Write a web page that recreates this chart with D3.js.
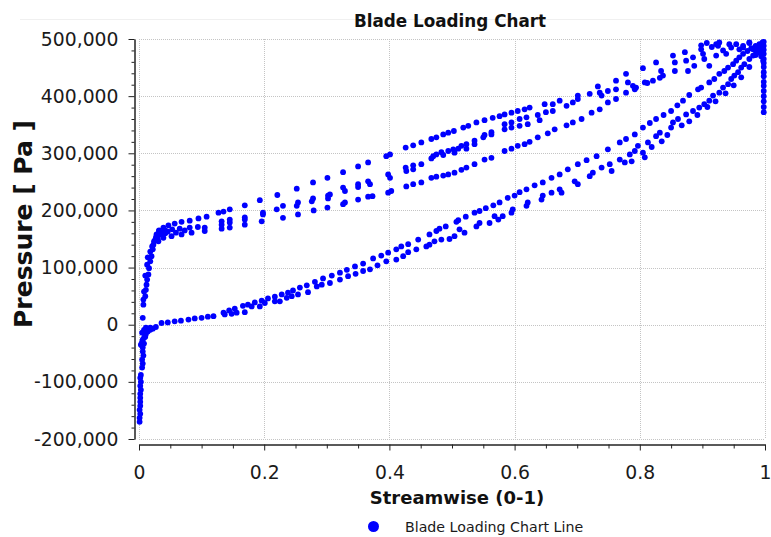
<!DOCTYPE html>
<html><head><meta charset="utf-8">
<script src="https://cdn.jsdelivr.net/npm/d3@7/dist/d3.min.js"></script>
<style>body{margin:0;background:#fff}svg{display:block}</style>
</head><body><svg id="c" width="771" height="537"></svg>
<script>
const title = "Blade Loading Chart";
const xLabel = "Streamwise (0-1)";
const yLabel = "Pressure [ Pa ]";
const legendLabel = "Blade Loading Chart Line";
const xTicks = [0, 0.2, 0.4, 0.6, 0.8, 1];
const xMinorTicks = [0.05,0.1,0.15,0.25,0.3,0.35,0.45,0.5,0.55,0.65,0.7,0.75,0.85,0.9,0.95];
const yTicks = [-200000, -100000, 0, 100000, 200000, 300000, 400000, 500000];
const yMinorTicks = [-180000,-160000,-140000,-120000,-80000,-60000,-40000,-20000,20000,40000,60000,80000,120000,140000,160000,180000,220000,240000,260000,280000,320000,340000,360000,380000,420000,440000,460000,480000];

// leading edge, suction side (near x = 0, negative pressures)
const leSuction = [[0.001,-170000],[0.001,-163000],[0.002,-156000],[0.001,-149000],[0.002,-142000],[0.002,-135000],[0.002,-128000],[0.002,-121000],[0.003,-114000],[0.002,-107000],[0.003,-100000],[0.002,-93000],[0.003,-88000],[0.005,-75000],[0.006,-68000],[0.005,-61000],[0.007,-54000],[0.006,-47000],[0.006,-40000],[0.008,-33000],[0.006,-26000],[0.010,-21000],[0.005,-14000],[0.008,-9000],[0.011,-5000],[0.006,12000],[0.003,-35000],[0.005,-30000],[0.008,-23000],[0.011,-16000],[0.014,-12000],[0.018,-9000],[0.022,-7000],[0.011,-11000],[0.010,-19000]];
// leading edge, pressure side rise
const lePressure = [[0.007,35000],[0.007,44000],[0.010,50000],[0.011,61000],[0.012,70000],[0.013,79000],[0.015,88000],[0.016,99000],[0.018,111000],[0.020,120000],[0.022,132000],[0.023,140000],[0.026,149000],[0.028,158000],[0.032,164000],[0.021,137000],[0.024,146000],[0.027,153000],[0.029,156000],[0.030,151000],[0.034,158000],[0.037,161000],[0.042,160000],[0.046,163000],[0.059,161000],[0.073,165000],[0.018,128000],[0.014,118000],[0.013,105000],[0.010,86000],[0.008,58000]];
// pressure side, upper row
const psTop = [[0.032,165000],[0.039,170000],[0.047,174000],[0.057,177000],[0.068,180000],[0.081,182000],[0.095,186000],[0.108,189000],[0.127,196000],[0.135,198000],[0.145,202000],[0.169,209000],[0.193,218000],[0.221,227000],[0.252,238000],[0.278,249000],[0.301,257000],[0.326,267000],[0.350,277000],[0.366,284000],[0.395,295000],[0.401,298000],[0.426,310000],[0.438,314000],[0.451,319000],[0.467,325000],[0.475,328000],[0.486,333000],[0.494,336000],[0.503,339000],[0.518,345000],[0.526,348000],[0.539,354000],[0.552,358000],[0.565,362000],[0.576,365000],[0.584,368000],[0.595,371000],[0.605,374000],[0.616,377000],[0.624,380000],[0.648,386000],[0.672,392000],[0.701,401000],[0.733,417000],[0.762,427000],[0.778,439000],[0.805,449000],[0.826,459000],[0.853,471000],[0.872,477000],[0.898,482000],[0.925,488000],[0.943,491000],[0.975,494000],[0.996,494000]];
// pressure side, middle rows
const psMid = [[0.042,165000],[0.053,167000],[0.065,168000],[0.081,170000],[0.094,171000],[0.105,170000],[0.132,181000],[0.132,175000],[0.145,184000],[0.145,179000],[0.169,188000],[0.169,184000],[0.198,196000],[0.198,193000],[0.220,202000],[0.230,208000],[0.252,208000],[0.254,214000],[0.276,216000],[0.278,221000],[0.302,221000],[0.302,226000],[0.305,228000],[0.326,240000],[0.329,234000],[0.350,246000],[0.350,241000],[0.366,251000],[0.369,246000],[0.398,263000],[0.401,257000],[0.426,275000],[0.427,269000],[0.438,279000],[0.438,272000],[0.451,281000],[0.467,291000],[0.470,295000],[0.475,298000],[0.483,302000],[0.486,297000],[0.494,304000],[0.502,307000],[0.504,301000],[0.510,308000],[0.515,313000],[0.523,316000],[0.523,308000],[0.536,322000],[0.536,316000],[0.550,328000],[0.552,332000],[0.563,333000],[0.563,337000],[0.584,342000],[0.584,351000],[0.595,354000],[0.595,345000],[0.608,360000],[0.608,348000],[0.619,363000],[0.621,351000],[0.637,367000],[0.640,358000],[0.650,372000],[0.661,386000],[0.661,374000],[0.683,383000],[0.693,389000],[0.701,395000],[0.720,404000],[0.736,406000],[0.739,401000],[0.749,409000],[0.762,412000],[0.781,424000],[0.789,418000],[0.792,412000],[0.808,424000],[0.821,427000],[0.834,444000],[0.837,436000],[0.856,459000],[0.856,444000],[0.874,462000],[0.877,444000],[0.885,468000],[0.887,453000],[0.901,474000],[0.903,465000],[0.911,453000],[0.922,471000],[0.933,480000],[0.938,474000],[0.946,485000],[0.959,482000],[0.965,485000],[0.981,482000],[0.986,485000],[0.994,477000]];
// pressure side, lower row
const psLow = [[0.031,146000],[0.039,152000],[0.052,155000],[0.068,158000],[0.084,161000],[0.105,164000],[0.132,168000],[0.145,170000],[0.169,175000],[0.196,181000],[0.230,187000],[0.254,193000],[0.279,200000],[0.301,205000],[0.326,211000],[0.329,214000],[0.350,219000],[0.366,224000],[0.373,225000],[0.398,231000],[0.403,234000],[0.427,242000],[0.438,246000],[0.451,249000],[0.467,257000],[0.475,259000],[0.486,261000],[0.494,263000],[0.504,266000],[0.515,271000],[0.523,275000],[0.536,281000],[0.552,289000],[0.563,292000],[0.584,304000],[0.595,308000],[0.605,313000],[0.616,316000],[0.624,320000],[0.637,328000],[0.653,335000],[0.664,342000],[0.683,349000],[0.693,354000],[0.707,360000],[0.723,371000],[0.736,377000],[0.749,389000],[0.762,395000],[0.778,406000],[0.794,415000],[0.812,423000],[0.832,432000]];
// suction side, upper row
const ssUpper = [[0.018,-5000],[0.027,-4000],[0.036,3000],[0.046,4000],[0.057,6000],[0.067,7000],[0.079,9000],[0.089,11000],[0.100,12000],[0.110,14000],[0.119,15000],[0.135,21000],[0.144,25000],[0.153,28000],[0.166,33000],[0.174,35000],[0.185,39000],[0.196,42000],[0.206,46000],[0.217,49000],[0.228,53000],[0.238,56000],[0.246,60000],[0.257,65000],[0.268,69000],[0.281,75000],[0.294,81000],[0.308,86000],[0.321,91000],[0.332,96000],[0.345,102000],[0.358,107000],[0.374,116000],[0.387,121000],[0.398,126000],[0.411,132000],[0.419,137000],[0.430,141000],[0.446,149000],[0.464,158000],[0.475,164000],[0.480,168000],[0.490,172000],[0.507,180000],[0.510,183000],[0.522,189000],[0.536,196000],[0.544,199000],[0.554,204000],[0.566,209000],[0.576,214000],[0.589,222000],[0.600,226000],[0.608,232000],[0.619,237000],[0.632,244000],[0.645,249000],[0.659,257000],[0.672,263000],[0.685,272000],[0.701,281000],[0.715,288000],[0.731,295000],[0.749,307000],[0.768,319000],[0.778,325000],[0.792,333000],[0.805,345000],[0.816,353000],[0.826,360000],[0.838,367000],[0.850,374000],[0.860,384000],[0.869,392000],[0.879,402000],[0.893,412000],[0.898,415000],[0.911,424000],[0.919,430000],[0.927,439000],[0.935,444000],[0.941,450000],[0.949,456000],[0.954,462000],[0.959,468000],[0.965,474000],[0.972,479000],[0.978,484000],[0.985,488000],[0.991,491000]];
// suction side, lower row
const ssLower = [[0.137,18000],[0.148,19000],[0.156,21000],[0.169,22000],[0.180,32000],[0.193,32000],[0.201,38000],[0.217,41000],[0.225,41000],[0.236,47000],[0.244,50000],[0.254,53000],[0.270,57000],[0.284,67000],[0.292,70000],[0.305,73000],[0.321,79000],[0.334,85000],[0.346,89000],[0.358,94000],[0.369,97000],[0.381,104000],[0.395,111000],[0.411,114000],[0.422,120000],[0.430,127000],[0.443,132000],[0.459,137000],[0.464,140000],[0.472,146000],[0.483,149000],[0.496,150000],[0.504,155000],[0.512,167000],[0.520,161000],[0.539,172000],[0.544,178000],[0.560,178000],[0.568,190000],[0.574,184000],[0.581,190000],[0.595,196000],[0.597,202000],[0.619,208000],[0.621,214000],[0.643,219000],[0.645,226000],[0.659,231000],[0.672,237000],[0.675,231000],[0.696,251000],[0.701,246000],[0.720,260000],[0.725,266000],[0.739,275000],[0.752,281000],[0.755,269000],[0.768,289000],[0.776,284000],[0.784,298000],[0.792,304000],[0.797,313000],[0.805,301000],[0.813,319000],[0.826,330000],[0.832,336000],[0.850,345000],[0.853,354000],[0.861,360000],[0.874,368000],[0.885,374000],[0.895,380000],[0.903,386000],[0.911,392000],[0.917,401000],[0.927,406000],[0.933,415000],[0.941,421000],[0.946,430000],[0.951,436000],[0.957,442000],[0.962,450000],[0.967,456000],[0.975,465000],[0.981,471000],[0.986,477000],[0.991,482000],[0.996,485000]];
// suction side, rear band
const ssBand = [[0.787,286000],[0.808,293000],[0.819,311000],[0.835,321000],[0.844,332000],[0.867,349000],[0.879,356000],[0.892,367000],[0.908,381000],[0.921,391000],[0.937,405000],[0.950,419000],[0.962,433000],[0.975,451000]];
// trailing edge
const teEdge = [[0.998,495000],[0.998,488000],[0.998,481000],[0.998,474000],[0.998,465000],[0.998,458000],[0.998,451000],[0.998,442000],[0.998,435000],[0.998,425000],[0.998,418000],[0.998,409000],[0.998,400000],[0.998,391000],[0.998,381000],[0.998,372000]];
const tipCluster = [[0.898,489000],[0.922,491000],[0.927,494000],[0.954,491000],[0.965,488000],[0.975,493000],[0.983,482000],[0.991,485000],[0.996,491000],[0.907,493000],[0.915,486000],[0.990,476000],[0.994,470000],[0.997,462000],[0.985,472000]];

const points = [].concat(leSuction, lePressure, psTop, psMid, psLow, ssUpper, ssLower, ssBand, teEdge, tipCluster);

const svg = d3.select("#c");
const font = "'DejaVu Sans', Verdana, sans-serif";
svg.append("rect").attr("width", 771).attr("height", 537).attr("fill", "#fff");

const x = d3.scaleLinear().domain([0, 1]).range([139, 765]);
const y = d3.scaleLinear().domain([-200000, 500000]).range([439, 39]);
const locale = d3.formatLocale({decimal: ".", thousands: ",", grouping: [3], currency: ["", ""], minus: "-"});

// faint panel line
svg.append("line").attr("x1", 20).attr("x2", 771).attr("y1", 19.5).attr("y2", 19.5).attr("stroke", "#f0f0f0");

// grid
const grid = svg.append("g").attr("stroke", "#c4c4c4").attr("stroke-width", 1).attr("stroke-dasharray", "1,1");
grid.selectAll(".gx").data(xTicks).join("line")
  .attr("x1", d => Math.round(x(d)) + 0.5).attr("x2", d => Math.round(x(d)) + 0.5)
  .attr("y1", y(500000)).attr("y2", y(-200000));
grid.selectAll(".gy").data(yTicks).join("line")
  .attr("y1", d => Math.round(y(d)) + 0.5).attr("y2", d => Math.round(y(d)) + 0.5)
  .attr("x1", x(0)).attr("x2", x(1));

// axes
const yAxis = svg.append("g").attr("transform", "translate(134.5,0)")
  .call(d3.axisLeft(y).tickValues(yTicks).tickFormat(locale.format(",")).tickSize(6).tickSizeOuter(0).tickPadding(10));
const yMinor = svg.append("g").attr("transform", "translate(134.5,0)")
  .call(d3.axisLeft(y).tickValues(yMinorTicks).tickFormat("").tickSize(3).tickSizeOuter(0));
const xAxis = svg.append("g").attr("transform", "translate(0,444.5)")
  .call(d3.axisBottom(x).tickValues(xTicks).tickFormat(locale.format("")).tickSize(6).tickSizeOuter(0).tickPadding(15));
const xMinor = svg.append("g").attr("transform", "translate(0,444.5)")
  .call(d3.axisBottom(x).tickValues(xMinorTicks).tickFormat("").tickSize(4).tickSizeOuter(0));
[yAxis, yMinor, xAxis, xMinor].forEach(g => {
  g.selectAll("path,line").attr("stroke", "#222");
  g.selectAll("text").attr("font-family", font).attr("font-size", 18.8).attr("fill", "#1a1a1a");
});

// points
svg.append("g").selectAll("circle").data(points).join("circle")
  .attr("cx", d => x(d[0])).attr("cy", d => y(d[1])).attr("r", 2.9).attr("fill", "#0000ff");

// title & labels
svg.append("text").attr("x", 450).attr("y", 27).attr("text-anchor", "middle")
  .attr("font-family", font).attr("font-weight", "bold").attr("font-size", 16.8).attr("fill", "#111").text(title);
svg.append("text").attr("x", 457).attr("y", 504).attr("text-anchor", "middle")
  .attr("font-family", font).attr("font-weight", "bold").attr("font-size", 18).attr("fill", "#111").text(xLabel);
svg.append("text").attr("transform", "translate(32,224) rotate(-90)").attr("text-anchor", "middle")
  .attr("font-family", font).attr("font-weight", "bold").attr("font-size", 25).attr("fill", "#111").text(yLabel);

// legend
svg.append("circle").attr("cx", 373.5).attr("cy", 526.5).attr("r", 5.5).attr("fill", "#0000ff");
svg.append("text").attr("x", 405).attr("y", 532).attr("font-family", font).attr("font-size", 14.2)
  .attr("fill", "#1a1a1a").text(legendLabel);
</script></body></html>
